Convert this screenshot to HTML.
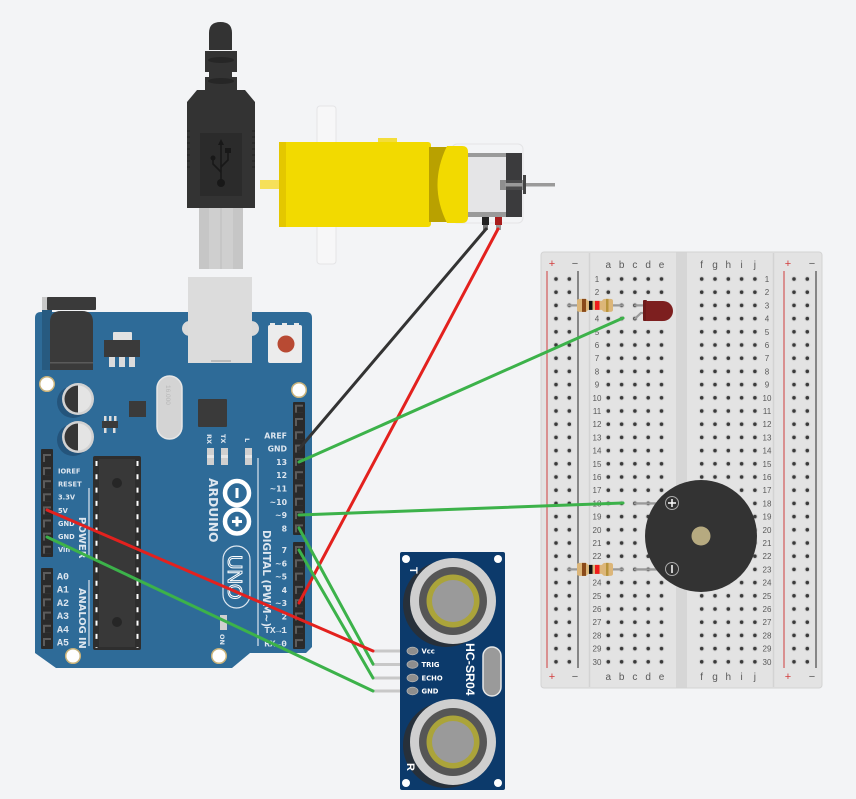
<!DOCTYPE html>
<html><head><meta charset="utf-8"><style>
html,body{margin:0;padding:0;background:#f3f4f6;}
svg{display:block;}
.lb{font-family:"DejaVu Sans","Liberation Sans",sans-serif;font-weight:bold;fill:#dde6ef;}
.mo{font-family:"Liberation Mono","DejaVu Sans Mono",monospace;font-weight:bold;fill:#dde6ef;}
.bb{font-family:"Liberation Sans","DejaVu Sans",sans-serif;fill:#5a5a5a;}
</style></head><body>
<svg width="856" height="799" viewBox="0 0 856 799" xmlns="http://www.w3.org/2000/svg">
<defs>
 <pattern id="hL" patternUnits="userSpaceOnUse" x="549.35" y="272.4" width="13.3" height="13.2"><circle cx="6.65" cy="6.6" r="3" fill="#d6d6d6"/><circle cx="6.65" cy="6.6" r="1.8" fill="#3a3a3a"/></pattern>
 <pattern id="hA" patternUnits="userSpaceOnUse" x="601.65" y="272.4" width="13.3" height="13.2"><circle cx="6.65" cy="6.6" r="3" fill="#d6d6d6"/><circle cx="6.65" cy="6.6" r="1.8" fill="#3a3a3a"/></pattern>
 <pattern id="hF" patternUnits="userSpaceOnUse" x="695.05" y="272.4" width="13.3" height="13.2"><circle cx="6.65" cy="6.6" r="3" fill="#d6d6d6"/><circle cx="6.65" cy="6.6" r="1.8" fill="#3a3a3a"/></pattern>
 <pattern id="hR" patternUnits="userSpaceOnUse" x="787.35" y="272.4" width="13.3" height="13.2"><circle cx="6.65" cy="6.6" r="3" fill="#d6d6d6"/><circle cx="6.65" cy="6.6" r="1.8" fill="#3a3a3a"/></pattern>
 <g id="pin"><rect x="-4" y="-4" width="8" height="8" fill="#5c5c5c"/><rect x="-2" y="-2" width="6" height="6" fill="#2a2a2a"/></g>
 <g id="res">
  <line x1="-27" y1="0" x2="28" y2="0" stroke="#9a9a9a" stroke-width="2.2" stroke-linecap="round"/>
  <path d="M-18 -4.5 Q-18 -6.5 -15 -6.5 H-10 Q-8 -6.5 -7 -4.5 H7 Q8 -6.5 10 -6.5 H15 Q18 -6.5 18 -4.5 V4.5 Q18 6.5 15 6.5 H10 Q8 6.5 7 4.5 H-7 Q-8 6.5 -10 6.5 H-15 Q-18 6.5 -18 4.5 Z" fill="#dcb679"/>
  <rect x="-13" y="-6.5" width="4" height="13" fill="#8a4a1a"/>
  <rect x="-6" y="-4.5" width="3.5" height="9" fill="#111"/>
  <rect x="0" y="-4.5" width="4.5" height="9" fill="#f01c1c"/>
  <rect x="11" y="-6.5" width="2.5" height="13" fill="#b8943c"/>
 </g>
</defs>

<rect width="856" height="799" fill="#f3f4f6"/>

<!-- motor backing plate -->
<rect x="317" y="106" width="19" height="158" rx="3" fill="#f7f7f8" stroke="#e4e4e6" stroke-width="1"/>

<!-- USB cable -->
<path d="M209 50 V33 Q209 22 220.5 22 Q232 22 232 33 V50 Z" fill="#333"/>
<rect x="205" y="51" width="32" height="21" fill="#333"/>
<ellipse cx="221" cy="60" rx="13" ry="3" fill="#262626"/>
<rect x="209" y="72" width="23" height="6" fill="#333"/>
<rect x="205" y="77" width="32" height="14" fill="#333"/>
<ellipse cx="221" cy="81" rx="13" ry="3" fill="#262626"/>
<path d="M197 90 H245 L255 102 V208 H187 V102 Z" fill="#333"/>
<g fill="#2a2a2a">
 <rect x="187" y="130" width="3" height="2"/><rect x="187" y="136" width="3" height="2"/><rect x="187" y="142" width="3" height="2"/><rect x="187" y="148" width="3" height="2"/><rect x="187" y="154" width="3" height="2"/><rect x="187" y="160" width="3" height="2"/><rect x="187" y="166" width="3" height="2"/>
 <rect x="252" y="130" width="3" height="2"/><rect x="252" y="136" width="3" height="2"/><rect x="252" y="142" width="3" height="2"/><rect x="252" y="148" width="3" height="2"/><rect x="252" y="154" width="3" height="2"/><rect x="252" y="160" width="3" height="2"/><rect x="252" y="166" width="3" height="2"/>
</g>
<rect x="200" y="133" width="42" height="63" fill="#2b2b2b"/>
<g stroke="#181818" stroke-width="1.6" fill="none">
 <line x1="221" y1="143" x2="221" y2="182"/>
 <path d="M213 159 V164 L221 172"/>
 <path d="M228 152 V160 L221 167"/>
</g>
<path d="M221 139 L218 145 H224 Z" fill="#181818"/>
<circle cx="221" cy="183" r="4" fill="#181818"/>
<circle cx="213" cy="158" r="2.5" fill="#181818"/>
<rect x="225" y="148" width="6" height="5" fill="#181818"/>
<rect x="199" y="208" width="44" height="61" fill="#c6c6c6"/>
<rect x="209" y="208" width="24" height="61" fill="#cfcfcf"/>
<line x1="221" y1="208" x2="221" y2="269" stroke="#bdbdbd" stroke-width="1"/>

<!-- Motor -->
<rect x="452" y="144" width="71" height="79" rx="5" fill="none" stroke="#e4e4e6" stroke-width="1"/>
<rect x="260" y="180" width="21" height="9" fill="#f6e05a"/>
<rect x="378" y="138" width="19" height="5" fill="#f3dd3a"/>
<rect x="279" y="142" width="152" height="85" rx="3" fill="#f2da00"/>
<rect x="279" y="142" width="7" height="85" fill="#e4c700"/>
<rect x="429" y="147" width="20" height="75" fill="#b9a100"/>
<path d="M447 146 H462 Q468 146 468 152 V217 Q468 223 462 223 H447 Q428 185 447 146 Z" fill="#f2da00"/>
<rect x="468" y="153" width="54" height="64" fill="#e5e5e7"/>
<rect x="468" y="153" width="40" height="4" fill="#9a9a9a"/>
<rect x="468" y="212" width="40" height="5" fill="#9a9a9a"/>
<rect x="506" y="153" width="16" height="64" fill="#3b3b3d"/>
<rect x="500" y="180" width="25" height="10" fill="#555" opacity="0.6"/>
<rect x="505" y="183" width="50" height="3.5" fill="#9a9a9a"/>
<rect x="523" y="175" width="3" height="19" fill="#444"/>
<rect x="482" y="217" width="7" height="8" fill="#222"/>
<rect x="495" y="217" width="7" height="8" fill="#a81c1c"/>
<rect x="483" y="225" width="5" height="5" fill="#777"/>
<rect x="496" y="225" width="5" height="5" fill="#999"/>

<!-- Arduino board -->
<path d="M41 312 H306 Q312 312 312 318 V647 L306 653 H250 L232 668 H56 L35 653 V318 Q35 312 41 312 Z" fill="#2e6b98"/>
<!-- power jack -->
<rect x="42" y="310" width="10" height="60" fill="#275a80"/>
<rect x="42" y="297" width="7" height="13" fill="#c8c8c8"/>
<rect x="47" y="297" width="49" height="13" rx="1" fill="#3a3a3a"/>
<path d="M50 370 V322 Q50 311 61 311 H82 Q93 311 93 322 V370 Z" fill="#3a3a3a"/>
<rect x="50" y="362" width="43" height="1.5" fill="#5a5a5a"/>
<!-- regulator -->
<rect x="113" y="332" width="19" height="9" rx="1" fill="#e2e2e2"/>
<rect x="104" y="340" width="36" height="17" fill="#3a3a3a"/>
<rect x="109" y="357" width="6" height="10" fill="#dcdcdc"/><rect x="119" y="357" width="6" height="10" fill="#dcdcdc"/><rect x="129" y="357" width="6" height="10" fill="#dcdcdc"/>
<!-- USB port on board -->
<rect x="182" y="321" width="77" height="15" rx="7.5" fill="#dadada"/>
<rect x="188" y="277" width="64" height="86" fill="#dcdcdc"/>
<line x1="211" y1="361" x2="231" y2="361" stroke="#9a9a9a" stroke-width="1"/>
<!-- reset button -->
<rect x="270" y="323" width="5" height="3" fill="#e8e8e8"/><rect x="282" y="323" width="5" height="3" fill="#e8e8e8"/><rect x="294" y="323" width="5" height="3" fill="#e8e8e8"/>
<rect x="268" y="325" width="34" height="38" rx="2" fill="#ececec"/>
<circle cx="286" cy="344" r="8.5" fill="#b84a33"/>
<!-- mounting holes -->
<circle cx="47" cy="384" r="7.3" fill="#fff" stroke="#c8b27a" stroke-width="1.5"/>
<circle cx="299" cy="390" r="7.3" fill="#fff" stroke="#c8b27a" stroke-width="1.5"/>
<circle cx="73" cy="656" r="7.3" fill="#fff" stroke="#c8b27a" stroke-width="1.5"/>
<circle cx="219" cy="656" r="7.3" fill="#fff" stroke="#c8b27a" stroke-width="1.5"/>
<!-- capacitors -->
<circle cx="73" cy="402" r="16" fill="#24547b"/>
<circle cx="78" cy="399" r="16" fill="#d2d2d2"/>
<circle cx="78" cy="399" r="13.5" fill="#e4e4e4"/>
<path d="M78 385.5 A13.5 13.5 0 0 0 78 412.5 Z" fill="#363636"/>
<circle cx="73" cy="440" r="16" fill="#24547b"/>
<circle cx="78" cy="437" r="16" fill="#d2d2d2"/>
<circle cx="78" cy="437" r="13.5" fill="#e4e4e4"/>
<path d="M78 423.5 A13.5 13.5 0 0 0 78 450.5 Z" fill="#363636"/>
<!-- small chips -->
<rect x="104" y="416" width="2.5" height="5" fill="#ddd"/><rect x="109" y="416" width="2.5" height="5" fill="#ddd"/><rect x="114" y="416" width="2.5" height="5" fill="#ddd"/>
<rect x="104" y="428" width="2.5" height="5" fill="#ddd"/><rect x="113" y="428" width="2.5" height="5" fill="#ddd"/>
<rect x="102" y="421" width="16" height="7" fill="#3a3a3a"/>
<rect x="129" y="401" width="17" height="16" fill="#3a3a3a"/>
<rect x="157" y="376" width="25" height="63" rx="12.5" fill="#d4d4d4" stroke="#e6e6e6" stroke-width="1.5"/>
<text transform="translate(166,385) rotate(90)" font-family="Liberation Sans,sans-serif" font-size="6.5" fill="#b8b8b8">16.000</text>
<rect x="198" y="399" width="29" height="28" rx="1" fill="#3a3a3a"/>
<!-- RX TX L -->
<text transform="translate(207,434) rotate(90)" class="lb" font-size="6.5">RX</text>
<text transform="translate(221,434) rotate(90)" class="lb" font-size="6.5">TX</text>
<text transform="translate(245,438) rotate(90)" class="lb" font-size="6.5">L</text>
<rect x="207" y="448" width="7" height="17" fill="#cfcfcf"/>
<rect x="221" y="448" width="7" height="17" fill="#cfcfcf"/>
<rect x="245" y="448" width="7" height="17" fill="#cfcfcf"/>
<rect x="207" y="455" width="7" height="3" fill="#e6e6e6"/><rect x="221" y="455" width="7" height="3" fill="#e6e6e6"/><rect x="245" y="455" width="7" height="3" fill="#e6e6e6"/>
<!-- main chip -->
<rect x="93" y="456" width="48" height="194" rx="2" fill="#2e2e2e"/>
<rect x="99" y="459" width="36" height="188" fill="#383838"/>
<line x1="96.5" y1="461" x2="96.5" y2="648" stroke="#fff" stroke-width="2" stroke-dasharray="5 8.3"/>
<line x1="137.5" y1="461" x2="137.5" y2="648" stroke="#fff" stroke-width="2" stroke-dasharray="5 8.3"/>
<circle cx="117" cy="483" r="5" fill="#262626"/>
<circle cx="117" cy="622" r="5" fill="#262626"/>
<!-- lines -->
<line x1="89" y1="488" x2="89" y2="556" stroke="#dde6ef" stroke-width="1.2"/>
<line x1="89" y1="580" x2="89" y2="646" stroke="#dde6ef" stroke-width="1.2"/>
<line x1="258" y1="458" x2="258" y2="646" stroke="#dde6ef" stroke-width="1.2"/>
<text transform="translate(79,517) rotate(90)" class="lb" font-size="10">POWER</text>
<text transform="translate(79,588) rotate(90)" class="lb" font-size="9.8">ANALOG IN</text>
<text transform="translate(209,478) rotate(90)" class="lb" font-size="12.3" fill="#fff">ARDUINO</text>
<text transform="translate(263,530) rotate(90)" class="lb" font-size="10.4">DIGITAL (PWM~)</text>
<!-- infinity logo -->
<circle cx="237" cy="493" r="12" fill="none" stroke="#fff" stroke-width="4.5"/>
<circle cx="237" cy="521.5" r="12" fill="none" stroke="#fff" stroke-width="4.5"/>
<rect x="235.5" y="488" width="3" height="10" fill="#fff"/>
<rect x="235.5" y="516.5" width="3" height="10" fill="#fff"/>
<rect x="232" y="520" width="10" height="3" fill="#fff"/>
<!-- UNO -->
<rect x="223" y="546" width="27" height="62" rx="13.5" fill="none" stroke="#dde6ef" stroke-width="1.2"/>
<text transform="translate(228,555) rotate(90)" font-family="Liberation Sans,sans-serif" font-size="20" fill="#2e6b98" stroke="#fff" stroke-width="1">UNO</text>
<!-- ON LED -->
<rect x="220" y="615" width="7" height="15" fill="#cfcfcf"/>
<text transform="translate(220,634) rotate(90)" class="lb" font-size="6.5">ON</text>

<!-- headers -->
<rect x="293" y="402" width="12" height="133" rx="1" fill="#2a2a2a"/>
<rect x="293" y="542" width="12" height="107" rx="1" fill="#2a2a2a"/>
<rect x="41" y="449" width="12" height="108" rx="1" fill="#2a2a2a"/>
<rect x="41" y="568" width="12" height="81" rx="1" fill="#2a2a2a"/>
<use href="#pin" x="299" y="408.7"/><use href="#pin" x="299" y="422"/><use href="#pin" x="299" y="435.3"/><use href="#pin" x="299" y="448.6"/><use href="#pin" x="299" y="461.9"/><use href="#pin" x="299" y="475.2"/><use href="#pin" x="299" y="488.5"/><use href="#pin" x="299" y="501.8"/><use href="#pin" x="299" y="515.1"/><use href="#pin" x="299" y="528.4"/>
<use href="#pin" x="299" y="550"/><use href="#pin" x="299" y="563.3"/><use href="#pin" x="299" y="576.6"/><use href="#pin" x="299" y="589.9"/><use href="#pin" x="299" y="603.2"/><use href="#pin" x="299" y="616.5"/><use href="#pin" x="299" y="629.8"/><use href="#pin" x="299" y="643.1"/>
<use href="#pin" x="47" y="458"/><use href="#pin" x="47" y="471.1"/><use href="#pin" x="47" y="484.2"/><use href="#pin" x="47" y="497.3"/><use href="#pin" x="47" y="510.4"/><use href="#pin" x="47" y="523.5"/><use href="#pin" x="47" y="536.6"/><use href="#pin" x="47" y="549.7"/>
<use href="#pin" x="47" y="576"/><use href="#pin" x="47" y="589.2"/><use href="#pin" x="47" y="602.4"/><use href="#pin" x="47" y="615.6"/><use href="#pin" x="47" y="628.8"/><use href="#pin" x="47" y="642"/>

<!-- right labels -->
<g class="lb" font-size="7.8" text-anchor="end">
 <text x="287" y="438.3">AREF</text><text x="287" y="451.6">GND</text><text x="287" y="464.9">13</text><text x="287" y="478.2">12</text><text x="287" y="491.5">~11</text><text x="287" y="504.8">~10</text><text x="287" y="518.1">~9</text><text x="287" y="531.4">8</text>
 <text x="287" y="553">7</text><text x="287" y="566.3">~6</text><text x="287" y="579.6">~5</text><text x="287" y="592.9">4</text><text x="287" y="606.2">~3</text><text x="287" y="619.5">2</text>
</g>
<g class="mo" font-size="9.5" text-anchor="end">
 <text x="287" y="633">TX→1</text><text x="287" y="646.3">RX←0</text>
</g>
<g class="lb" font-size="6.7">
 <text x="58" y="473.5">IOREF</text><text x="58" y="486.6">RESET</text><text x="58" y="499.7">3.3V</text><text x="58" y="512.8">5V</text><text x="58" y="525.9">GND</text><text x="58" y="539">GND</text><text x="58" y="552.1">Vin</text>
</g>
<g class="mo" font-size="10">
 <text x="57" y="579.5">A0</text><text x="57" y="592.7">A1</text><text x="57" y="605.9">A2</text><text x="57" y="619.1">A3</text><text x="57" y="632.3">A4</text><text x="57" y="645.5">A5</text>
</g>

<!-- Breadboard -->
<rect x="541" y="252" width="281" height="436" rx="3" fill="#e3e3e3" stroke="#d3d3d3" stroke-width="1"/>
<rect x="676" y="252.5" width="11" height="435" fill="#d6d6d6"/>
<line x1="589.5" y1="253" x2="589.5" y2="687" stroke="#d3d3d3" stroke-width="1.5"/>
<line x1="773.5" y1="253" x2="773.5" y2="687" stroke="#d3d3d3" stroke-width="1.5"/>
<line x1="547" y1="271" x2="547" y2="668" stroke="#d46464" stroke-width="1.3"/>
<line x1="578" y1="271" x2="578" y2="668" stroke="#555" stroke-width="1.3"/>
<line x1="784" y1="271" x2="784" y2="668" stroke="#d46464" stroke-width="1.3"/>
<line x1="816" y1="271" x2="816" y2="668" stroke="#555" stroke-width="1.3"/>
<rect x="549.35" y="272.4" width="26.6" height="396" fill="url(#hL)"/>
<rect x="601.65" y="272.4" width="66.5" height="396" fill="url(#hA)"/>
<rect x="695.05" y="272.4" width="66.5" height="396" fill="url(#hF)"/>
<rect x="787.35" y="272.4" width="26.6" height="396" fill="url(#hR)"/>
<g class="bb" font-size="11" text-anchor="middle">
 <text x="552" y="267" fill="#d23c3c">+</text><text x="575" y="267">−</text>
 <text x="788" y="267" fill="#d23c3c">+</text><text x="812" y="267">−</text>
 <text x="552" y="680" fill="#d23c3c">+</text><text x="575" y="680">−</text>
 <text x="788" y="680" fill="#d23c3c">+</text><text x="812" y="680">−</text>
</g>
<g class="bb" font-size="10" text-anchor="middle">
 <text x="608.3" y="268">a</text><text x="621.6" y="268">b</text><text x="634.9" y="268">c</text><text x="648.2" y="268">d</text><text x="661.5" y="268">e</text>
 <text x="701.7" y="268">f</text><text x="715" y="268">g</text><text x="728.3" y="268">h</text><text x="741.6" y="268">i</text><text x="754.9" y="268">j</text>
 <text x="608.3" y="680">a</text><text x="621.6" y="680">b</text><text x="634.9" y="680">c</text><text x="648.2" y="680">d</text><text x="661.5" y="680">e</text>
 <text x="701.7" y="680">f</text><text x="715" y="680">g</text><text x="728.3" y="680">h</text><text x="741.6" y="680">i</text><text x="754.9" y="680">j</text>
</g>
<g class="bb" font-size="8" text-anchor="middle">
 <text x="597" y="282">1</text><text x="597" y="295.2">2</text><text x="597" y="308.4">3</text><text x="597" y="321.6">4</text><text x="597" y="334.8">5</text><text x="597" y="348">6</text><text x="597" y="361.2">7</text><text x="597" y="374.4">8</text><text x="597" y="387.6">9</text><text x="597" y="400.8">10</text>
 <text x="597" y="414">11</text><text x="597" y="427.2">12</text><text x="597" y="440.4">13</text><text x="597" y="453.6">14</text><text x="597" y="466.8">15</text><text x="597" y="480">16</text><text x="597" y="493.2">17</text><text x="597" y="506.4">18</text><text x="597" y="519.6">19</text><text x="597" y="532.8">20</text>
 <text x="597" y="546">21</text><text x="597" y="559.2">22</text><text x="597" y="572.4">23</text><text x="597" y="585.6">24</text><text x="597" y="598.8">25</text><text x="597" y="612">26</text><text x="597" y="625.2">27</text><text x="597" y="638.4">28</text><text x="597" y="651.6">29</text><text x="597" y="664.8">30</text>
 <text x="767" y="282">1</text><text x="767" y="295.2">2</text><text x="767" y="308.4">3</text><text x="767" y="321.6">4</text><text x="767" y="334.8">5</text><text x="767" y="348">6</text><text x="767" y="361.2">7</text><text x="767" y="374.4">8</text><text x="767" y="387.6">9</text><text x="767" y="400.8">10</text>
 <text x="767" y="414">11</text><text x="767" y="427.2">12</text><text x="767" y="440.4">13</text><text x="767" y="453.6">14</text><text x="767" y="466.8">15</text><text x="767" y="480">16</text><text x="767" y="493.2">17</text><text x="767" y="506.4">18</text><text x="767" y="519.6">19</text><text x="767" y="532.8">20</text>
 <text x="767" y="546">21</text><text x="767" y="559.2">22</text><text x="767" y="572.4">23</text><text x="767" y="585.6">24</text><text x="767" y="598.8">25</text><text x="767" y="612">26</text><text x="767" y="625.2">27</text><text x="767" y="638.4">28</text><text x="767" y="651.6">29</text><text x="767" y="664.8">30</text>
</g>

<!-- resistors -->
<use href="#res" x="595" y="305.4"/>
<use href="#res" x="595" y="569.4"/>
<!-- LED -->
<line x1="635" y1="305.4" x2="646" y2="305.4" stroke="#9a9a9a" stroke-width="2.2" stroke-linecap="round"/>
<polyline points="635,318.6 641,313 646,313" fill="none" stroke="#9a9a9a" stroke-width="2.2" stroke-linecap="round"/>
<rect x="643" y="300" width="4" height="21" rx="1" fill="#6e1a1a"/>
<path d="M646 301 H663 A10 10 0 0 1 663 321 H646 Z" fill="#7d1f1f"/>
<!-- buzzer -->
<line x1="635" y1="503.4" x2="662" y2="503.4" stroke="#9a9a9a" stroke-width="2.4" stroke-linecap="round"/>
<line x1="635" y1="569.4" x2="662" y2="569.4" stroke="#9a9a9a" stroke-width="2.4" stroke-linecap="round"/>
<circle cx="701" cy="536" r="56" fill="#333"/>
<circle cx="701" cy="536" r="9.5" fill="#b6aa80"/>
<circle cx="672" cy="503" r="6.5" fill="none" stroke="#aaa" stroke-width="1"/>
<path d="M668 503 H676 M672 499 V507" stroke="#fff" stroke-width="1.5"/>
<circle cx="672" cy="569" r="6.5" fill="none" stroke="#aaa" stroke-width="1"/>
<path d="M672 565 V573" stroke="#fff" stroke-width="1.5"/>

<!-- HC-SR04 -->
<g stroke="#c8c8c8" stroke-width="3">
 <line x1="372" y1="651" x2="408" y2="651"/><line x1="372" y1="664.5" x2="408" y2="664.5"/><line x1="372" y1="678" x2="408" y2="678"/><line x1="372" y1="691" x2="408" y2="691"/>
</g>
<rect x="400" y="552" width="105" height="238" rx="2" fill="#0c3a6b"/>
<g fill="#8e8e8e" stroke="#b0b0b0" stroke-width="0.8">
 <ellipse cx="412.5" cy="651" rx="5.5" ry="3.8"/><ellipse cx="412.5" cy="664.5" rx="5.5" ry="3.8"/><ellipse cx="412.5" cy="678" rx="5.5" ry="3.8"/><ellipse cx="412.5" cy="691" rx="5.5" ry="3.8"/>
</g>
<g class="lb" font-size="6.8" style="fill:#fff">
 <text x="421.5" y="653.5">Vcc</text><text x="421.5" y="667">TRIG</text><text x="421.5" y="680.5">ECHO</text><text x="421.5" y="693.5">GND</text>
</g>
<circle cx="406" cy="559" r="4" fill="#fff"/><circle cx="498" cy="559" r="4" fill="#fff"/>
<circle cx="406" cy="783" r="4" fill="#fff"/><circle cx="498" cy="783" r="4" fill="#fff"/>
<circle cx="446" cy="604" r="43" fill="#27303a"/>
<circle cx="453" cy="601" r="43" fill="#cfcfcf"/>
<circle cx="453" cy="601" r="34" fill="#565656"/>
<circle cx="453" cy="601" r="26.5" fill="#aba43a"/>
<circle cx="453" cy="601" r="21" fill="#9a9a9a"/>
<circle cx="446" cy="745" r="43" fill="#27303a"/>
<circle cx="453" cy="742" r="43" fill="#cfcfcf"/>
<circle cx="453" cy="742" r="34" fill="#565656"/>
<circle cx="453" cy="742" r="26.5" fill="#aba43a"/>
<circle cx="453" cy="742" r="21" fill="#9a9a9a"/>
<rect x="483" y="647" width="18" height="49" rx="9" fill="#9a9a9a" stroke="#e6e6e6" stroke-width="1.5"/>
<text transform="translate(466,643) rotate(90)" font-family="Liberation Sans,sans-serif" font-weight="bold" font-size="12.3" fill="#fff">HC-SR04</text>
<text transform="translate(410,567) rotate(90)" font-family="Liberation Sans,sans-serif" font-weight="bold" font-size="11" fill="#fff">T</text>
<text transform="translate(407,763) rotate(90)" font-family="Liberation Sans,sans-serif" font-weight="bold" font-size="11" fill="#fff">R</text>

<!-- wires -->
<g stroke-width="3" stroke-linecap="round" fill="none">
 <line x1="486" y1="229" x2="299" y2="449" stroke="#333"/>
 <line x1="498" y1="229" x2="299" y2="603" stroke="#e3211e"/>
 <line x1="299" y1="462" x2="623" y2="318" stroke="#3cb24a"/>
 <line x1="299" y1="515" x2="623" y2="503" stroke="#3cb24a"/>
 <line x1="299" y1="528" x2="373" y2="664" stroke="#3cb24a"/>
 <line x1="299" y1="550" x2="373" y2="678" stroke="#3cb24a"/>
 <line x1="47" y1="510" x2="373" y2="651" stroke="#e3211e"/>
 <line x1="47" y1="537" x2="373" y2="691" stroke="#3cb24a"/>
</g>
</svg>
</body></html>
